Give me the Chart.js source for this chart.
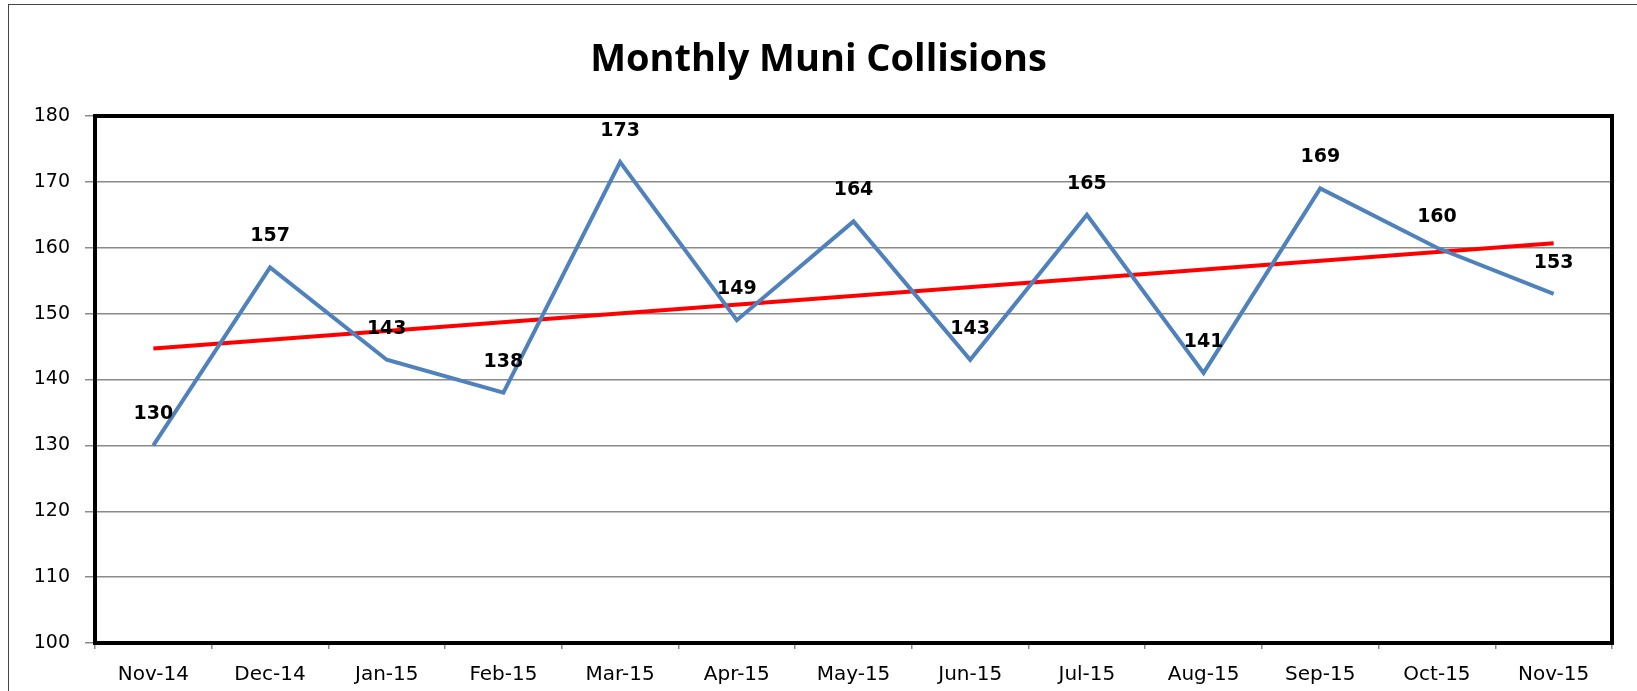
<!DOCTYPE html>
<html>
<head>
<meta charset="utf-8">
<script src="https://cdn.jsdelivr.net/npm/chart.js@4"></script>
<style>
  html, body { margin: 0; padding: 0; background: #fff; overflow: hidden; }
  #wrap { position: relative; width: 1637px; height: 691px; }
  #frame { position: absolute; left: 8px; top: 4px; width: 1700px; height: 800px; border: 1.5px solid #444; box-sizing: border-box; pointer-events: none; }
  canvas { position: absolute; left: 0; top: 0; }
</style>
</head>
<body>
<div id="wrap">
  <canvas id="c" width="1637" height="691"></canvas>
  <div id="frame"></div>
</div>
<script>
const chartTitle = "Monthly Muni Collisions";
const categories = ["Nov-14","Dec-14","Jan-15","Feb-15","Mar-15","Apr-15","May-15","Jun-15","Jul-15","Aug-15","Sep-15","Oct-15","Nov-15"];
const collisions = [130,157,143,138,173,149,164,143,165,141,169,160,153];
const trendEnds = [144.7, 160.7];
const yTicks = [100,110,120,130,140,150,160,170,180];

const trendData = categories.map((_, i) => i === 0 ? trendEnds[0] : (i === categories.length - 1 ? trendEnds[1] : null));

const FONT = "'DejaVu Sans', sans-serif";
const TITLE_FONT = "'Open Sans', 'DejaVu Sans', sans-serif";

const extras = {
  id: 'extras',
  afterDatasetsDraw(chart) {
    const ctx = chart.ctx;
    const a = chart.chartArea;
    ctx.save();
    ctx.strokeStyle = '#000';
    ctx.lineWidth = 4;
    ctx.strokeRect(a.left, a.top, a.right - a.left, a.bottom - a.top);
    // data labels
    const meta = chart.getDatasetMeta(0);
    ctx.fillStyle = '#000';
    ctx.font = "bold 19px " + FONT;
    ctx.textAlign = 'center';
    ctx.textBaseline = 'middle';
    meta.data.forEach((pt, i) => {
      ctx.fillText(String(collisions[i]), pt.x, pt.y - 31);
    });
    // title
    ctx.font = "bold 38px " + TITLE_FONT;
    ctx.fillText(chartTitle, chart.width / 2, 60);
    ctx.restore();
  }
};

new Chart(document.getElementById('c'), {
  type: 'line',
  data: {
    labels: categories,
    datasets: [
      { data: collisions, borderColor: '#4F81BD', borderWidth: 4, pointRadius: 0, tension: 0, fill: false },
      { data: trendData, borderColor: '#FF0000', borderWidth: 4, pointRadius: 0, spanGaps: true, tension: 0, fill: false }
    ]
  },
  options: {
    responsive: false,
    animation: false,
    devicePixelRatio: 1,
    layout: { padding: { left: 0, top: 116, right: 25, bottom: 0 } },
    plugins: { legend: { display: false }, tooltip: { enabled: false }, title: { display: false } },
    scales: {
      x: {
        offset: true,
        grid: { offset: true, drawOnChartArea: false, drawTicks: true, tickLength: 6, color: '#8a8a8a', lineWidth: 1.5 },
        border: { display: false },
        ticks: { color: '#000', font: { family: FONT, size: 20 }, padding: 14, maxRotation: 0, autoSkip: false },
        afterFit(s) { s.height = 48; }
      },
      y: {
        min: 100, max: 180,
        afterBuildTicks(s) { s.ticks = yTicks.map(v => ({ value: v })); },
        grid: { color: '#8a8a8a', lineWidth: 1.5, tickLength: 10, tickColor: '#8a8a8a' },
        border: { display: false },
        ticks: { color: '#000', font: { family: FONT, size: 19 }, padding: 15 },
        afterFit(s) { s.width = 95; }
      }
    }
  },
  plugins: [extras]
});
</script>
</body>
</html>
